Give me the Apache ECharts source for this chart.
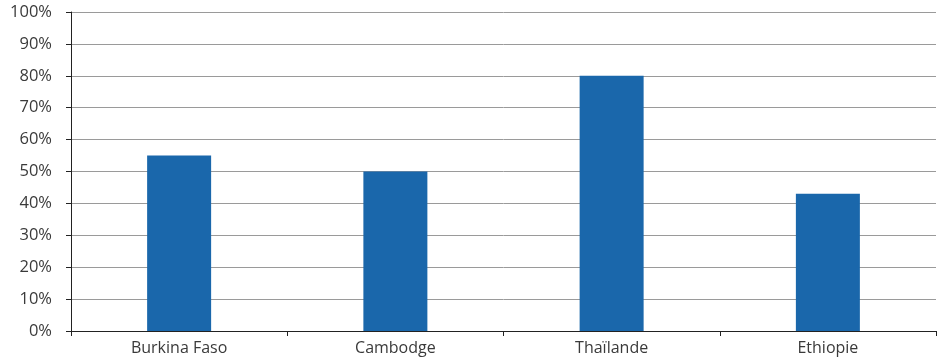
<!DOCTYPE html>
<html><head><meta charset="utf-8">
<script src="https://cdn.jsdelivr.net/npm/echarts@6/dist/echarts.min.js"></script>
<style>html,body{margin:0;padding:0;background:#fff}#c{width:937px;height:359px}</style>
</head><body><div id="c"></div>
<script>
const categories = ['Burkina Faso', 'Cambodge', 'Thaïlande', 'Ethiopie'];
const values = [55, 50, 80, 43];
const yMin = 0, yMax = 100, yStep = 10;

const chart = echarts.init(document.getElementById('c'), null, {renderer: 'canvas'});
chart.setOption({
  animation: false,
  grid: {left: 71, right: 1, top: 12, bottom: 28, containLabel: false},
  xAxis: {
    type: 'category', data: categories,
    axisLine: {lineStyle: {color: '#222', width: 1}},
    axisTick: {show: true, length: 5, lineStyle: {color: '#222'}},
    axisLabel: {color: '#3a3a3a', fontFamily: 'Open Sans', fontSize: 16, margin: 9}
  },
  yAxis: {
    type: 'value', min: yMin, max: yMax, interval: yStep,
    axisLine: {show: true, lineStyle: {color: '#222', width: 1}},
    axisTick: {show: true, length: 5, lineStyle: {color: '#222'}},
    splitLine: {lineStyle: {color: '#9a9a9a', width: 1}},
    axisLabel: {color: '#3a3a3a', fontFamily: 'Open Sans', fontSize: 16.5, margin: 19, formatter: '{value}%'}
  },
  series: [{
    type: 'bar', data: values, barWidth: 64,
    itemStyle: {color: '#1a67ab'}
  }]
});
</script></body></html>
